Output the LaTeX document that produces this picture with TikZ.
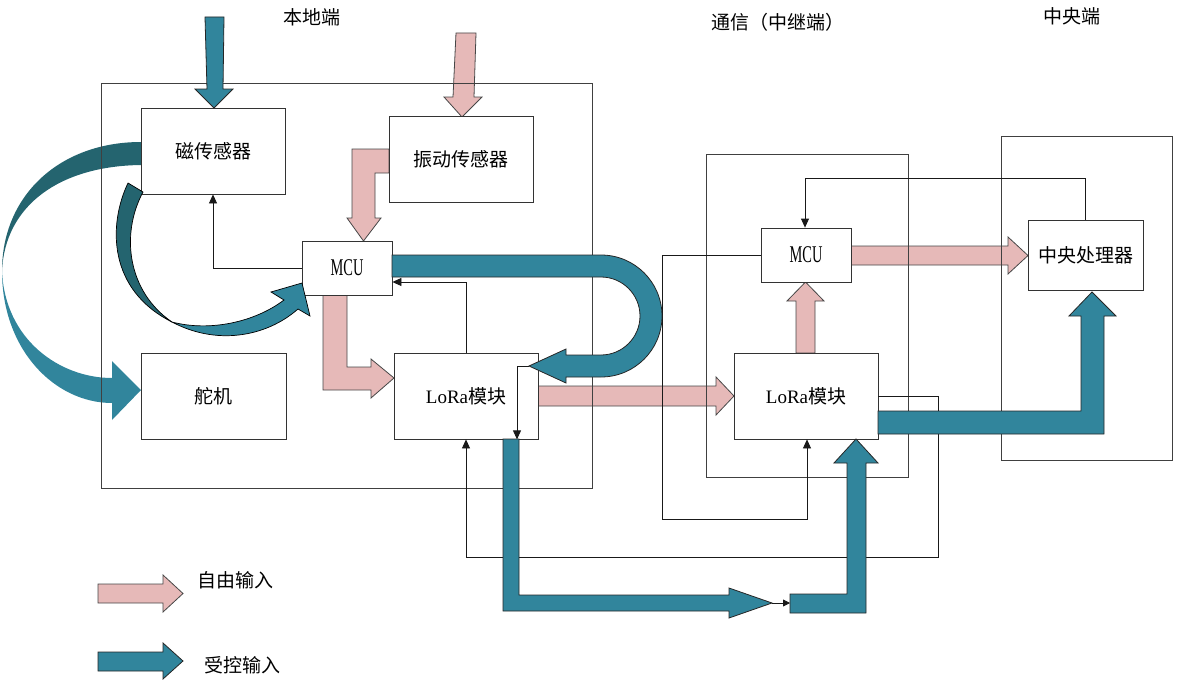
\documentclass[tikz,border=0pt]{standalone}
\usepackage{fontspec}
\usepackage{graphicx}
\setmainfont{Liberation Serif}
\newfontfamily\cjk{Noto Sans CJK SC}
\usetikzlibrary{arrows.meta}

\definecolor{tealA}{HTML}{31859C}
\definecolor{tealD}{HTML}{24646F}
\definecolor{roseA}{HTML}{E6B9B8}

\newcommand{\mcutext}{\scalebox{0.6}[1.0]{\fontsize{24pt}{26pt}\selectfont MCU}}

\begin{document}
\begin{tikzpicture}[x=1pt,y=-1pt,
  every node/.style={font=\fontsize{19pt}{22pt}\selectfont},
  frame/.style={draw=black!75, line width=0.8pt},
  blk/.style={draw=black!80, fill=white, line width=0.8pt, inner sep=0pt, align=center},
  bigblk/.style={blk, minimum width=144pt, minimum height=86pt},
  mcublk/.style={blk, minimum width=90pt, minimum height=54pt},
  ln/.style={draw=black!90, line width=0.8pt},
  lnarrow/.style={ln, -{Triangle[length=9pt,width=8pt]}},
  freearrow/.style={fill=roseA, draw=black!72, line width=0.8pt, line join=miter},
  ctrlarrow/.style={fill=tealA, draw=black!85, line width=0.8pt, line join=miter},
  title/.style={inner sep=0pt}
]
\useasboundingbox (0,0) rectangle (1178,685);

% ---- titles
\node[title] (tLocal) at (312,17) {\cjk 本地端};
\node[title] (tRelay) at (778,22) {\cjk 通信（中继端）};
\node[title] (tCentral) at (1072,16) {\cjk 中央端};

% ---- large curved control arrow (magnetic sensor -> servo)
\fill[tealD] (141,142) .. controls (60,142) and (2,195) .. (2,271)
   .. controls (5,205) and (60,166) .. (141,165) -- cycle;
\fill[tealA] (2,271) .. controls (2,350) and (55,403) .. (112,403)
   -- (112,420) -- (141,390) -- (112,361) -- (112,378)
   .. controls (60,378) and (5,340) .. (2,271) -- cycle;

% ---- free-input arrows
\path[freearrow] (456,33) -- (476,33) -- (474,97) -- (482,97) -- (462,117)
   -- (444,97) -- (453,97) -- cycle;
\path[freearrow] (389,149) -- (352,149) -- (352,218) -- (347,218) -- (363.5,241)
   -- (381,218) -- (375,218) -- (375,173) -- (389,173) -- cycle;
\path[freearrow] (323,295) -- (323,390) -- (371,390) -- (371,398) -- (394,378)
   -- (371,359) -- (371,367) -- (347,367) -- (347,295) -- cycle;
\path[freearrow] (538,386) -- (716,386) -- (716,377) -- (734,396) -- (716,415)
   -- (716,406) -- (538,406) -- cycle;
\path[freearrow] (796,353) -- (796,301) -- (787,301) -- (805.5,282) -- (824,301)
   -- (815,301) -- (815,353) -- cycle;
\path[freearrow] (851,246) -- (1008,246) -- (1008,237) -- (1028,255.5) -- (1008,274)
   -- (1008,265) -- (851,265) -- cycle;

% ---- group frames
\draw[frame] (101,83) rectangle (592,488);
\draw[frame] (706,154) rectangle (908,477);
\draw[frame] (1001,136) rectangle (1172,460);

% ---- blocks
\node[bigblk] (mag) at (213,151) {\cjk 磁传感器};
\node[bigblk] (vib) at (461,159) {\cjk 振动传感器};
\node[mcublk] (mcuL) at (347,268) {\mcutext};
\node[bigblk, minimum width=145pt] (servo) at (213.5,396) {\cjk 舵机};
\node[bigblk] (loraL) at (466,396) {LoRa{\cjk 模块}};
\node[mcublk] (mcuR) at (806,255) {\mcutext};
\node[bigblk] (loraR) at (806,396) {LoRa{\cjk 模块}};
\node[blk, minimum width=115pt, minimum height=70pt] (cpu) at (1085.5,255) {\cjk 中央处理器};

% ---- signal lines
\coordinate (relayLow) at (662,519);
\coordinate (backLow) at (938,557);
\draw[lnarrow] (mcuL.west) -| (mag.south);
\draw[lnarrow] (loraL.north) |- ([yshift=-14pt]mcuL.east);
\draw[lnarrow] ([xshift=-9pt,yshift=30pt]loraL.east) -| ([xshift=51pt]loraL.south);
\draw[lnarrow] (mcuR.west) -| (relayLow) -| ([xshift=1pt]loraR.south);
\draw[lnarrow] (cpu.north) -- ++(0,-41) -| ([xshift=-1pt]mcuR.north);
\draw[lnarrow] (loraR.east) -| (backLow) -| (loraL.south);

% ---- small curved control arrow (magnetic sensor -> MCU)
\path[fill=tealD, draw=black, line width=0.7pt, line join=round]
   (128,183) .. controls (108,225) and (108,290) .. (172,322)
   .. controls (128,292) and (120,235) .. (143,192) -- cycle;
\path[fill=tealA, draw=black, line width=0.7pt, line join=miter]
   (172,322) .. controls (215,345) and (265,338) .. (298,309)
   -- (310,316) -- (302,283) -- (271,292) -- (284,300)
   .. controls (255,322) and (210,332) .. (172,322) -- cycle;

% ---- control-input arrows
\path[ctrlarrow] (205,17) -- (224,17) -- (223,89) -- (233,89) -- (214,108)
   -- (195,89) -- (207,89) -- cycle;
\path[ctrlarrow] (392,255) -- (601,255)
   .. controls (634.7,255) and (662,282.3) .. (662,316)
   .. controls (662,349.7) and (634.7,377) .. (601,377)
   -- (566,377) -- (566,383) -- (529,366) -- (566,349) -- (566,355) -- (601,355)
   .. controls (622.5,355) and (640,337.5) .. (640,316)
   .. controls (640,294.5) and (622.5,277) .. (601,277) -- (392,277) -- cycle;
\path[ctrlarrow] (503,439) -- (503,611) -- (729,611) -- (729,618) -- (772,603)
   -- (729,588) -- (729,595) -- (519,595) -- (519,439) -- cycle;
\path[ctrlarrow] (790,594) -- (790,613) -- (866,613) -- (866,463) -- (878,463)
   -- (856,439) -- (834,463) -- (847,463) -- (847,594) -- cycle;
\path[ctrlarrow] (878,411) -- (878,434) -- (1104,434) -- (1104,316) -- (1116,316)
   -- (1092,292) -- (1069,316) -- (1081,316) -- (1081,411) -- cycle;

\coordinate (gapA) at (772,603);
\coordinate (gapB) at (790,603);
\draw[ln, -{Triangle[length=7pt,width=7pt]}] (gapA) -- (gapB);

% ---- legend
\path[freearrow] (98,584) -- (163,584) -- (163,575) -- (183,593.5) -- (163,612)
   -- (163,603) -- (98,603) -- cycle;
\node[title] (lgFree) at (235,580) {\cjk 自由输入};
\path[ctrlarrow] (98,652) -- (163,652) -- (163,643) -- (183,661) -- (163,679)
   -- (163,671) -- (98,671) -- cycle;
\node[title] (lgCtrl) at (242,665) {\cjk 受控输入};
\end{tikzpicture}
\end{document}
